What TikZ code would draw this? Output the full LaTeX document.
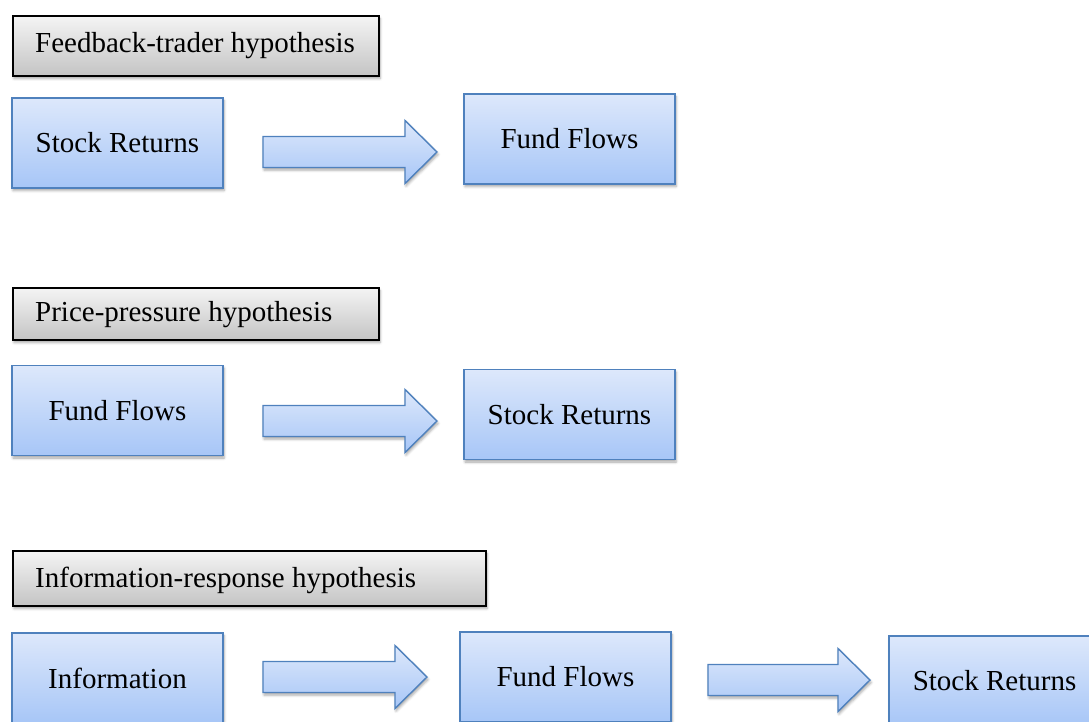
\documentclass[tikz,border=0pt]{standalone}
\usepackage{fontspec}
\setmainfont{Liberation Serif}
\usetikzlibrary{shadows.blur}
\definecolor{bxtop}{HTML}{DDE8FB}
\definecolor{bxbot}{HTML}{A7C6F7}
\definecolor{bxline}{HTML}{4F81BD}
\definecolor{hdtop}{HTML}{F4F4F4}
\definecolor{hdbot}{HTML}{C4C4C4}
\tikzset{
  shade/.style={blur shadow={shadow xshift=1pt, shadow yshift=-2.5pt, shadow blur radius=2.5pt, shadow opacity=35}},
  bluebox/.style={draw=bxline, line width=1.4pt, top color=bxtop, bottom color=bxbot, shade,
    minimum width=211pt, minimum height=90pt, inner sep=0pt, font=\fontsize{29}{34}\selectfont},
  headbox/.style={draw=black, line width=1.8pt, top color=hdtop, bottom color=hdbot, shade},
  headtext/.style={anchor=west, inner sep=0pt, font=\fontsize{29}{34}\selectfont},
  blockarr/.style={draw=bxline, line width=1.4pt, top color=bxtop, bottom color=bxbot, shade, line join=miter}
}
% \barrow{x1}{tip}{yc}
\newcommand{\barrow}[3]{%
  \path[blockarr] (#1,#3-15.5) -- (#2-32,#3-15.5) -- (#2-32,#3-31.5) -- (#2,#3) -- (#2-32,#3+31.5) -- (#2-32,#3+15.5) -- (#1,#3+15.5) -- cycle;}
\begin{document}
\begin{tikzpicture}[x=1pt,y=-1pt]
\useasboundingbox (0,0) rectangle (1089,722);
\clip (0,0) rectangle (1089,722);
% Row 1
\path[headbox] (13,16) rectangle (379,76);
\node[headtext] (h1) at (35,46) {Feedback-trader hypothesis};
\node[bluebox] (a1) at (117.5,143) {Stock Returns};
\node[bluebox] (b1) at (569.5,139) {Fund Flows};
\barrow{263}{437}{152}
% Row 2
\path[headbox] (13,288) rectangle (379,340);
\node[headtext] (h2) at (35,315) {Price-pressure hypothesis};
\node[bluebox] (a2) at (117.5,410.5) {Fund Flows};
\node[bluebox] (b2) at (569.5,414.5) {Stock Returns};
\barrow{263}{437}{421}
% Row 3
\path[headbox] (13,551) rectangle (486,606);
\node[headtext] (h3) at (35,580) {Information-response hypothesis};
\node[bluebox] (a3) at (117.5,678) {Information};
\node[bluebox] (b3) at (565.5,677) {Fund Flows};
\node[bluebox] (c3) at (994.5,681) {Stock Returns};
\barrow{263}{427}{677}
\barrow{708}{870}{680}
\end{tikzpicture}
\end{document}
